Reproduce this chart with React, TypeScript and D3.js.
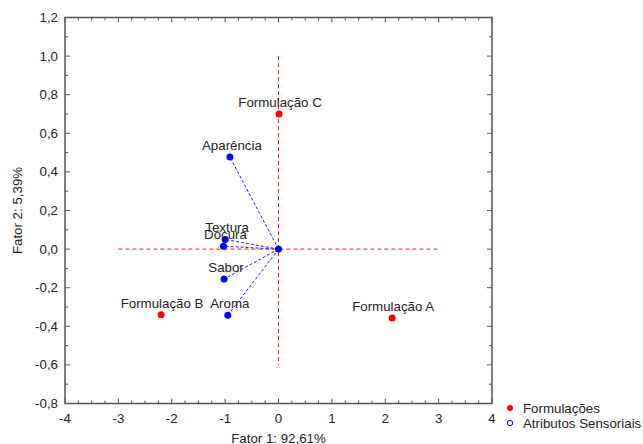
import React from "react";
import * as d3 from "d3";

const formulacoes = ["Formulação A", "Formulação B", "Formulação C"];
const formX = [2.13, -2.2, 0.01];
const formY = [-0.357, -0.34, 0.70];

const atributos = ["Aparência", "Textura", "Doçura", "Sabor", "Aroma"];
const atrX = [-0.91, -1.0, -1.03, -1.02, -0.95];
const atrY = [0.477, 0.05, 0.015, -0.155, -0.343];

const xTicks = [-4, -3, -2, -1, 0, 1, 2, 3, 4];
const yTicks = [-0.8, -0.6, -0.4, -0.2, 0.0, 0.2, 0.4, 0.6, 0.8, 1.0, 1.2];

const W = 643, H = 444;
const L = 65, R = 492, T = 17.5, B = 403.5;

export default function App() {
  const x = d3.scaleLinear().domain([-4, 4]).range([L, R]);
  const y = d3.scaleLinear().domain([-0.8, 1.2]).range([B, T]);
  const font = "'Liberation Sans', Arial, sans-serif";
  const fmtY = (v: number) => v.toFixed(1).replace(".", ",");
  const minorX = d3.range(-4, 4.001, 0.25);
  const minorY = d3.range(-0.8, 1.2001, 0.1);
  const fs = 13.3;
  return (
    <svg width={W} height={H} style={{ position: "absolute", left: 0, top: 0, background: "#fff" }} fontFamily={font}>
      <line x1={x(-3)} x2={x(3)} y1={y(0)} y2={y(0)} stroke="#e02020" strokeDasharray="4,3" strokeWidth={1} />
      <line x1={x(0)} x2={x(0)} y1={y(1.0)} y2={y(-0.6)} stroke="#e02020" strokeDasharray="4,3" strokeWidth={1} />
      {atributos.map((a, i) => (
        <line key={a} x1={x(0)} y1={y(0)} x2={x(atrX[i])} y2={y(atrY[i])} stroke="#2020ff" strokeDasharray="3,2" strokeWidth={1} />
      ))}
      <rect x={L} y={T} width={R - L} height={B - T} fill="none" stroke="#555" strokeWidth={1.5} />
      {minorX.map((v) => {
        const major = Math.abs(v - Math.round(v)) < 1e-6;
        const len = major ? 5 : 3;
        return (
          <g key={"x" + v}>
            <line x1={x(v)} x2={x(v)} y1={B} y2={B - len} stroke="#555" />
            <line x1={x(v)} x2={x(v)} y1={T} y2={T + len} stroke="#555" />
          </g>
        );
      })}
      {minorY.map((v, i) => {
        const major = i % 2 === 0;
        const len = major ? 5 : 3;
        return (
          <g key={"y" + i}>
            <line x1={L} x2={L + len} y1={y(v)} y2={y(v)} stroke="#555" />
            <line x1={R} x2={R - len} y1={y(v)} y2={y(v)} stroke="#555" />
          </g>
        );
      })}
      {xTicks.map((v) => (
        <text key={"xt" + v} x={x(v)} y={B + 19} textAnchor="middle" fontSize={fs} fill="#222">{String(v)}</text>
      ))}
      {yTicks.map((v) => (
        <text key={"yt" + v} x={L - 7} y={y(v) + 4.5} textAnchor="end" fontSize={fs} fill="#222">{fmtY(v)}</text>
      ))}
      <text x={x(0)} y={443} textAnchor="middle" fontSize={fs} fill="#222">Fator 1: 92,61%</text>
      <text transform={`translate(22,${y(0.2)}) rotate(-90)`} textAnchor="middle" fontSize={fs} fill="#222">Fator 2:  5,39%</text>
      <circle cx={x(0)} cy={y(0)} r={3.5} fill="#0000ff" />
      {atributos.map((a, i) => (
        <g key={"p" + a}>
          <circle cx={x(atrX[i])} cy={y(atrY[i])} r={3.5} fill="#0000ff" />
          <text x={x(atrX[i]) + 2} y={y(atrY[i]) - 7} textAnchor="middle" fontSize={fs} fill="#222">{a}</text>
        </g>
      ))}
      {formulacoes.map((f, i) => (
        <g key={"f" + f}>
          <circle cx={x(formX[i])} cy={y(formY[i])} r={3.5} fill="#ff0000" />
          <text x={x(formX[i]) + 1} y={y(formY[i]) - 7} textAnchor="middle" fontSize={fs} fill="#222">{f}</text>
        </g>
      ))}
      <circle cx={510} cy={408} r={3} fill="#ff0000" />
      <text x={523} y={412.5} fontSize={fs} fill="#222">Formulações</text>
      <circle cx={510} cy={423} r={2.7} fill="none" stroke="#0000ff" strokeWidth={1} />
      <text x={523} y={427.5} fontSize={fs} fill="#222">Atributos Sensoriais</text>
    </svg>
  );
}
